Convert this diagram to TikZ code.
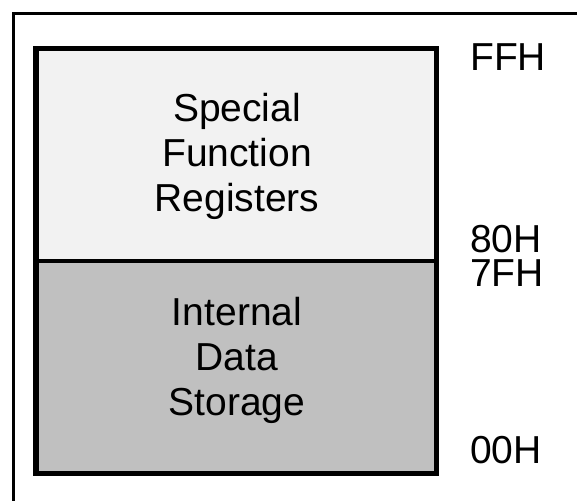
\documentclass[tikz,border=0pt]{standalone}
\usepackage{fontspec}
\setmainfont{Liberation Sans}
\definecolor{sfrfill}{HTML}{F2F2F2}
\definecolor{idsfill}{HTML}{C0C0C0}
\begin{document}
\begin{tikzpicture}[x=1pt,y=-1pt,
  lbl/.style={inner sep=0pt,font=\fontsize{39}{45}\selectfont},
  boxline/.style={draw=black,line width=3.5pt},
  framel/.style={draw=black,line width=3pt}]
\useasboundingbox (0,0) rectangle (577,500);
\clip (0,0) rectangle (577,500);
\fill[white] (0,0) rectangle (577,500);
% outer frame (right and bottom edges lie outside the picture)
\draw[framel] (13.5,13.5) rectangle (600,520);
% memory blocks
\node[boxline,fill=sfrfill,inner sep=0pt,anchor=north west,minimum width=399pt,minimum height=211.5pt] (sfr) at (35,47.5) {};
\node[boxline,fill=idsfill,inner sep=0pt,anchor=north west,minimum width=399pt,minimum height=211.5pt] (ids) at (35,259) {};
\draw[boxline] (sfr.north west) rectangle (ids.south east);
% texts
\node[lbl,anchor=base] (t1) at (237,121.7) {Special};
\node[lbl,anchor=base] (t2) at (237,166.7) {Function};
\node[lbl,anchor=base] (t3) at (237,211.7) {Registers};
\node[lbl,anchor=base] (t4) at (237,325) {Internal};
\node[lbl,anchor=base] (t5) at (237,370) {Data};
\node[lbl,anchor=base] (t6) at (237,415) {Storage};
% addresses
\node[lbl,anchor=base west] (a1) at (470,71) {FFH};
\node[lbl,anchor=base west] (a2) at (470,252) {80H};
\node[lbl,anchor=base west] (a3) at (470,286.5) {7FH};
\node[lbl,anchor=base west] (a4) at (470,463.3) {00H};
\end{tikzpicture}
\end{document}
